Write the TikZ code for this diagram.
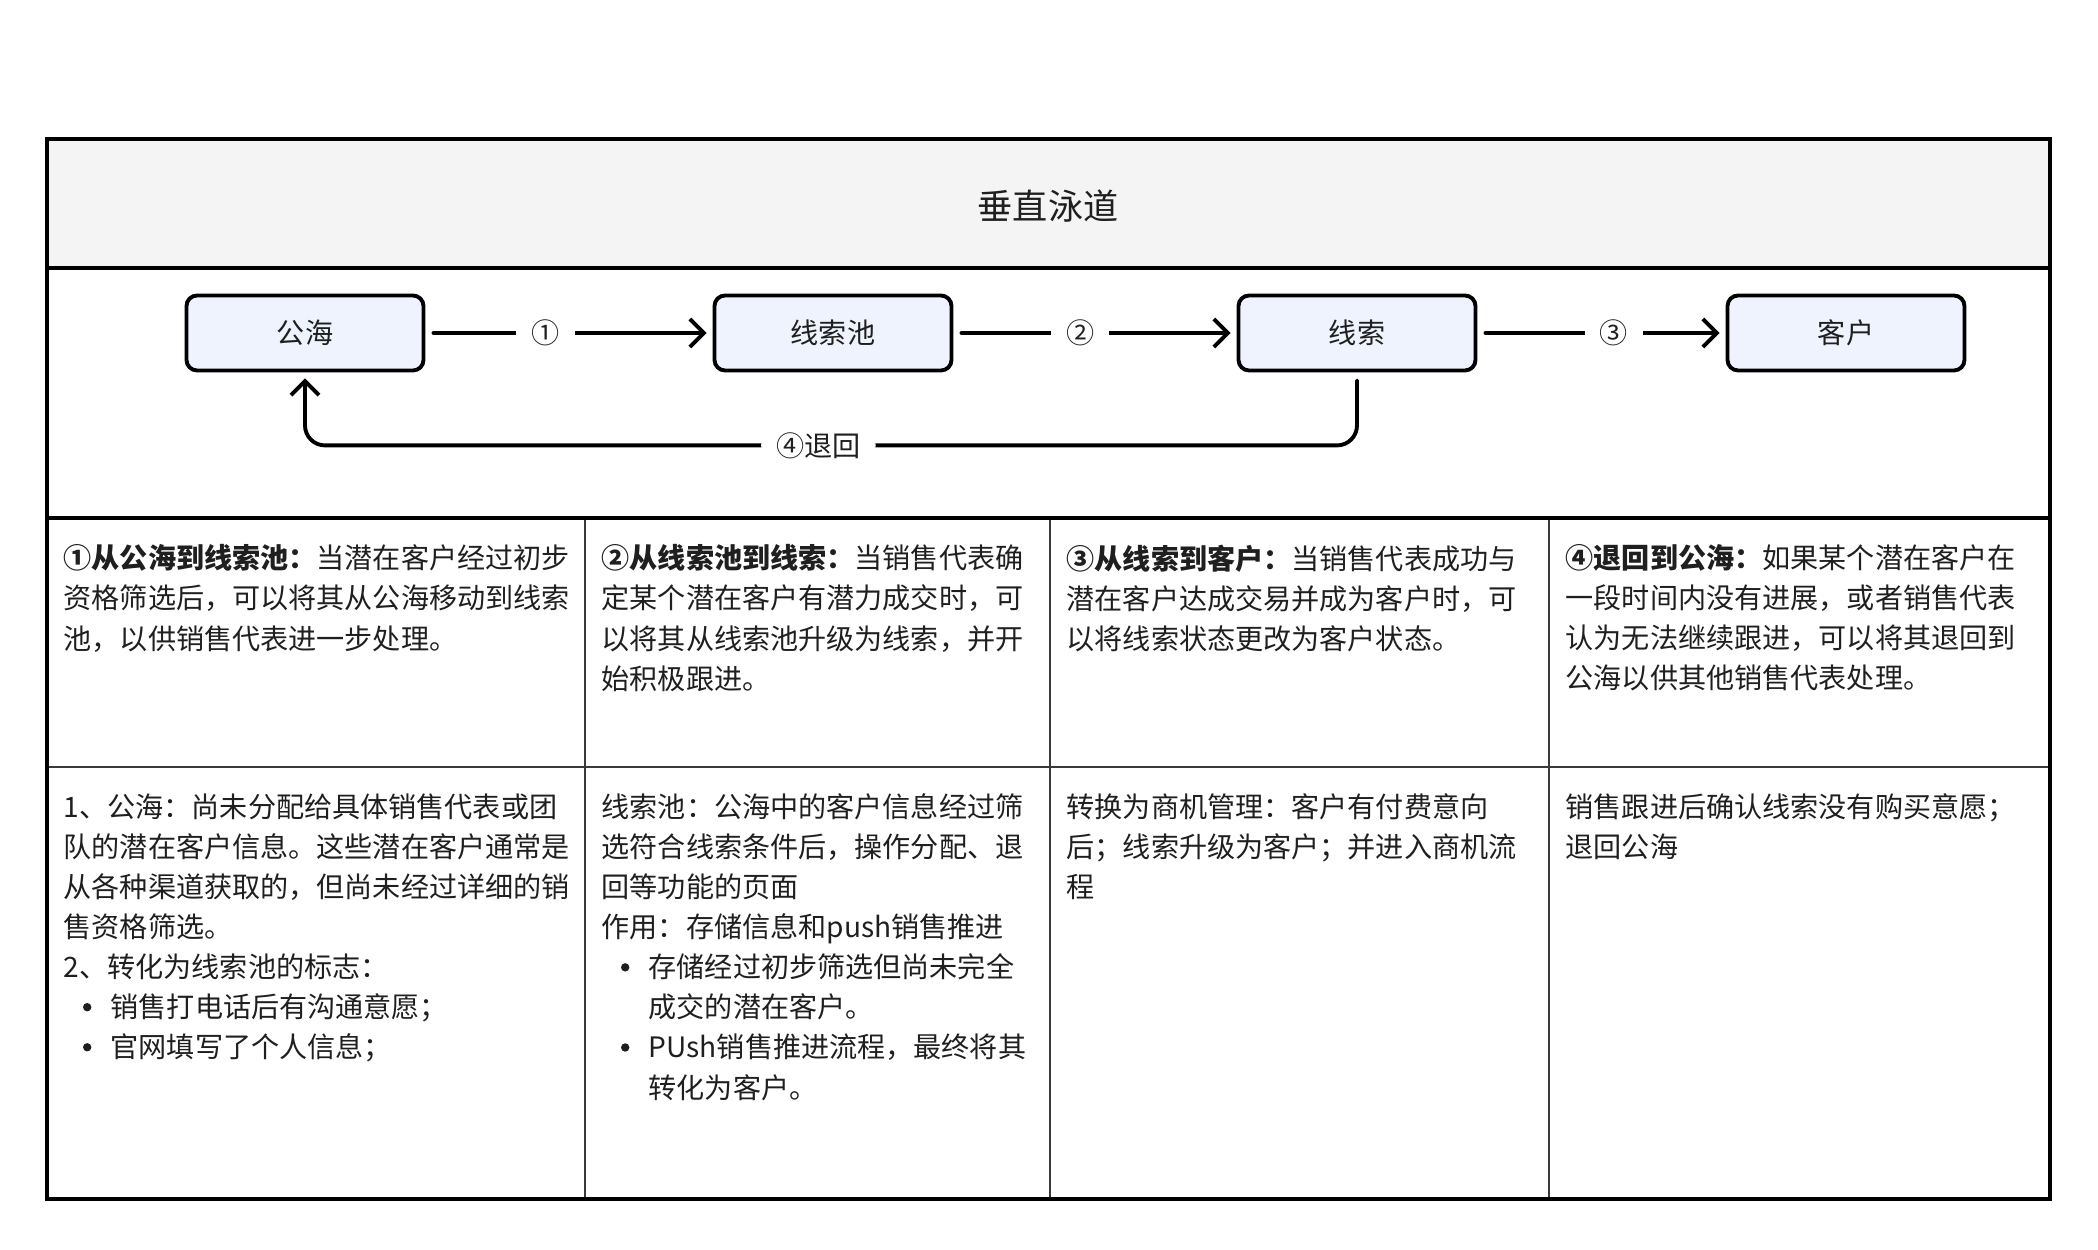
\documentclass[tikz,border=0pt]{standalone}
\usepackage{fontspec}
\setmainfont{Noto Sans CJK SC}
\usepackage{tikz}
\usetikzlibrary{arrows.meta,positioning,calc}
\definecolor{headfill}{HTML}{F4F4F4}
\definecolor{boxfill}{HTML}{EEF3FD}
\definecolor{inkc}{HTML}{1F1F1F}
\definecolor{gridc}{HTML}{3A3A3A}
\tikzset{
  frame/.style={draw=black, line width=0.9pt},
  grid/.style={draw=gridc, line width=0.7pt},
  stagebox/.style={draw=black, fill=boxfill, rounded corners=3pt, line width=1.1pt,
               minimum width=2.37cm, minimum height=0.75cm, inner sep=0pt,
               font=\fontsize{8pt}{10pt}\selectfont, text=inkc},
  flow/.style={-{Straight Barb[length=1.4mm,width=2.8mm]}, line width=1.1pt, line cap=round,
               shorten <=0.08cm, shorten >=0.06cm},
  steplabel/.style={fill=white, inner xsep=0.15cm, inner ysep=1pt, font=\fontsize{8pt}{10pt}\selectfont, text=inkc},
  cell/.style={anchor=north west, align=left, inner sep=0pt, font=\fontsize{8pt}{11.4pt}\selectfont, text=inkc},
  lanetitle/.style={font=\fontsize{10pt}{12pt}\selectfont, text=inkc},
}
\def\cA{0.47}
\def\cB{5.85}
\def\cC{10.50}
\def\cD{15.49}
\def\cE{20.50}
\def\yT{11.11}
\def\yH{9.82}
\def\yF{7.32}
\def\yR{4.83}
\def\yB{0.51}
\def\yS{9.17}
\newcommand{\bul}{\makebox[0.47cm][c]{\tikz[baseline=-0.105cm]\fill[inkc] (0,0) circle (0.042cm);}}
\newcommand{\ind}{\hspace*{0.47cm}}

\begin{document}
\begin{tikzpicture}
  \useasboundingbox (0,0) rectangle (20.98,12.5);
  % lane frame and table
  \fill[headfill] (\cA,\yH) rectangle (\cE,\yT);
  \draw[grid] (\cA,\yR) -- (\cE,\yR);
  \draw[grid] (\cB,\yB) -- (\cB,\yF) (\cC,\yB) -- (\cC,\yF) (\cD,\yB) -- (\cD,\yF);
  \draw[frame] (\cA,\yF) -- (\cE,\yF);
  \draw[frame] (\cA,\yH) -- (\cE,\yH);
  \draw[frame] (\cA,\yB) rectangle (\cE,\yT);
  \node[lanetitle] (title) at (10.48,10.44) {垂直泳道};
  % stages
  \node[stagebox] (gh) at (3.05,\yS) {公海};
  \node[stagebox] (xsc) at (8.33,\yS) {线索池};
  \node[stagebox] (xs) at (13.57,\yS) {线索};
  \node[stagebox] (kh) at (18.46,\yS) {客户};
  \draw[flow] (gh) -- node[steplabel, pos=0.418] {①} (xsc);
  \draw[flow] (xsc) -- node[steplabel, pos=0.448] {②} (xs);
  \draw[flow] (xs) -- node[steplabel, pos=0.55] {③} (kh);
  \draw[flow, rounded corners=0.2cm] (xs.south) -- ++(0,-0.73) -| node[steplabel, pos=0.256] {④退回} (gh.south);
  % row 1
  \node[cell] (d1) at (\cA+0.16,\yF-0.26) {{\bfseries ①从公海到线索池：}当潜在客户经过初步\\资格筛选后，可以将其从公海移动到线索\\池，以供销售代表进一步处理。};
  \node[cell] (d2) at (\cB+0.16,\yF-0.26) {{\bfseries ②从线索池到线索：}当销售代表确\\定某个潜在客户有潜力成交时，可\\以将其从线索池升级为线索，并开\\始积极跟进。};
  \node[cell] (d3) at (\cC+0.16,\yF-0.26) {{\bfseries ③从线索到客户：}当销售代表成功与\\潜在客户达成交易并成为客户时，可\\以将线索状态更改为客户状态。};
  \node[cell] (d4) at (\cD+0.16,\yF-0.26) {{\bfseries ④退回到公海：}如果某个潜在客户在\\一段时间内没有进展，或者销售代表\\认为无法继续跟进，可以将其退回到\\公海以供其他销售代表处理。};
  % row 2
  \node[cell] (n1) at (\cA+0.16,\yR-0.26) {1、公海：尚未分配给具体销售代表或团\\队的潜在客户信息。这些潜在客户通常是\\从各种渠道获取的，但尚未经过详细的销\\售资格筛选。\\2、转化为线索池的标志：\\\bul 销售打电话后有沟通意愿；\\\bul 官网填写了个人信息；};
  \node[cell] (n2) at (\cB+0.16,\yR-0.26) {线索池：公海中的客户信息经过筛\\选符合线索条件后，操作分配、退\\回等功能的页面\\作用：存储信息和push销售推进\\\bul 存储经过初步筛选但尚未完全\\\ind 成交的潜在客户。\\\bul PUsh销售推进流程，最终将其\\\ind 转化为客户。};
  \node[cell] (n3) at (\cC+0.16,\yR-0.26) {转换为商机管理：客户有付费意向\\后；线索升级为客户；并进入商机流\\程};
  \node[cell] (n4) at (\cD+0.16,\yR-0.26) {销售跟进后确认线索没有购买意愿；\\退回公海};
\end{tikzpicture}
\end{document}
